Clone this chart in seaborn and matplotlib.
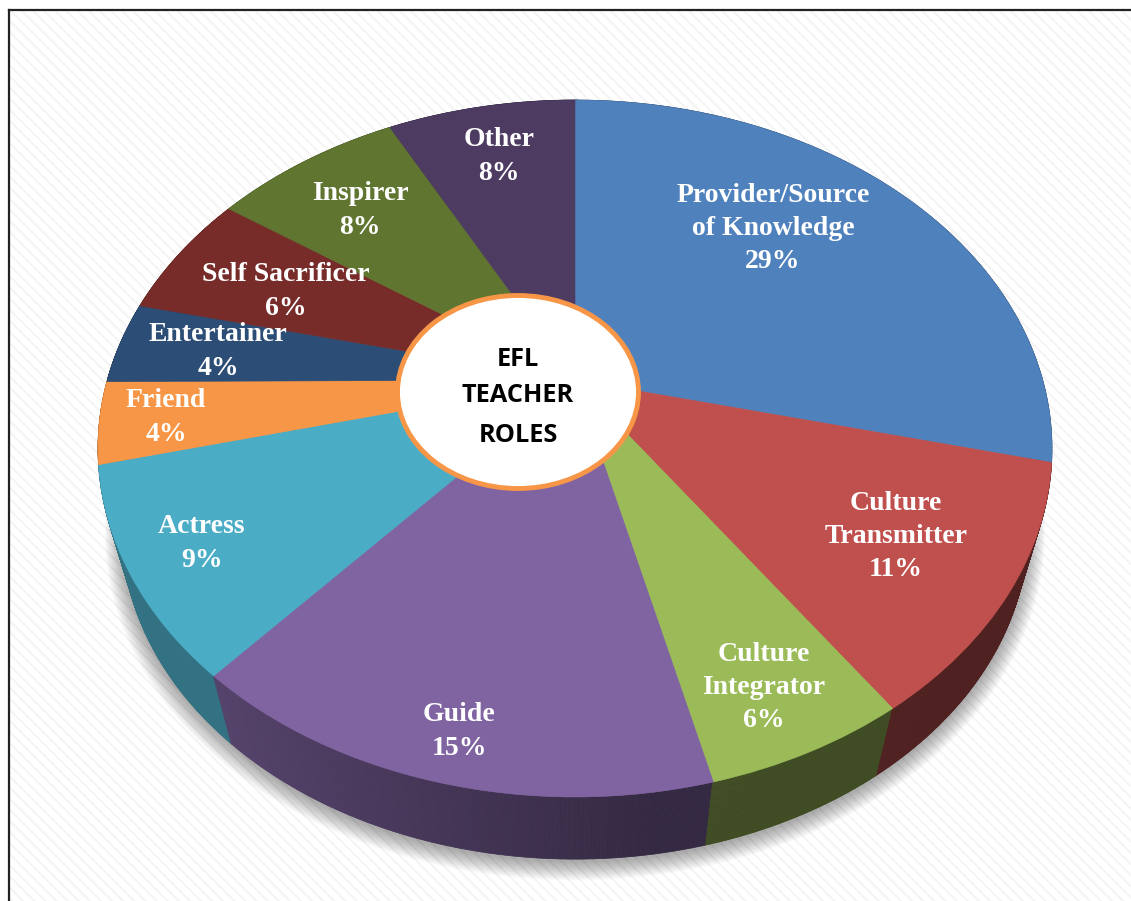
import numpy as np
import seaborn as sns
import matplotlib
matplotlib.use("Agg")
import matplotlib.pyplot as plt
import matplotlib.transforms as mtransforms
from matplotlib.collections import PolyCollection
from matplotlib.patches import Ellipse, Polygon, Rectangle

roles = ["Provider/Source\nof Knowledge", "Culture\nTransmitter", "Culture\nIntegrator", "Guide",
         "Actress", "Friend", "Entertainer", "Self Sacrificer", "Inspirer", "Other"]
# printed percentages, and the slice sizes (labels are rounded)
percents = [29, 11, 6, 15, 9, 4, 4, 6, 8, 8]
slice_sizes = [28.8, 11.6, 5.8, 15.3, 9.7, 3.8, 3.8, 5.9, 7.7, 7.7]
role_colors = ["#4F81BD", "#C0504D", "#9BBB59", "#8064A2", "#4BACC6",
               "#F79646", "#2C4D75", "#772C2A", "#5F7530", "#4D3B62"]
label_x = [773, 896, 764, 459, 202, 166, 218, 286, 360, 499]
label_y = [228.5, 536.5, 687.5, 731.5, 543.5, 417.5, 351.5, 291.5, 210.5, 156.5]

sns.set_theme(style="white")
plt.rcParams["hatch.linewidth"] = 1.4
palette = sns.color_palette(role_colors)

# pie is tilted, so the unit circle goes through a perspective map (apex sits above the ellipse centre)
APEX_X, APEX_Y = 575, 380
K, A, B = 0.1966, 467.7, 335.0
DROP, SHRINK = 83, 0.95


class Tilt(mtransforms.Transform):
    input_dims = 2
    output_dims = 2

    def transform_non_affine(self, values):
        values = np.asarray(values)
        w = 1 + K * values[:, 1]
        return np.column_stack([APEX_X + A * values[:, 0] / w, APEX_Y - B * values[:, 1] / w])


tilt = Tilt()


def top_rim(theta):
    return tilt.transform_non_affine(np.column_stack([np.cos(theta), np.sin(theta)]))


def bottom_rim(theta):
    pts = top_rim(theta)
    return np.column_stack([APEX_X + SHRINK * (pts[:, 0] - APEX_X),
                            APEX_Y + DROP + SHRINK * (pts[:, 1] - APEX_Y)])


fig = plt.figure(figsize=(11.31, 9.01), dpi=100)
ax = fig.add_axes([0, 0, 1, 1])
wedges, _ = ax.pie(slice_sizes, colors=palette, startangle=90, counterclock=False, radius=1,
                   wedgeprops={"linewidth": 0})
ax.set_aspect("auto")
ax.set_xlim(0, 1131)
ax.set_ylim(901, 0)
ax.axis("off")

# page background and frame
ax.add_patch(Rectangle((9, 10), 1130, 900, facecolor="white", edgecolor="#f4f4f4", hatch="\\\\\\",
                       linewidth=0, zorder=0))
ax.plot([9, 9], [905, 10], color="#222222", lw=1.6, zorder=1, solid_capstyle="projecting")
ax.plot([9, 1135], [10, 10], color="#222222", lw=1.6, zorder=1, solid_capstyle="projecting")

# soft shadow under the disc, built up from stacked outlines
ring = np.linspace(0, 2 * np.pi, 361)
base = bottom_rim(ring)
for grow in np.linspace(17, 0, 18):
    cx, cy = base.mean(axis=0)
    scaled = np.column_stack([cx + (base[:, 0] - cx) * (1 + grow / 450),
                              cy + (base[:, 1] - cy) * (1 + grow / 340) + 3])
    ax.add_patch(Polygon(scaled, closed=True, facecolor="black", alpha=0.02, linewidth=0, zorder=2))

# side wall, shaded from left to right
edges = np.radians(90 - 3.6 * np.concatenate([[0], np.cumsum(slice_sizes)]))
for i, color in enumerate(palette):
    theta = np.linspace(edges[i], edges[i + 1], 200)
    upper, lower = top_rim(theta), bottom_rim(theta)
    quads, shades = [], []
    for j in range(len(theta) - 1):
        quads.append([upper[j], upper[j + 1], lower[j + 1], lower[j]])
        shades.append(np.interp(lower[j, 0], [230, 650], [0.66, 0.41]))
    face = [tuple(np.array(color) * s) for s in shades]
    ax.add_collection(PolyCollection(quads, facecolors=face, edgecolors=face, linewidths=0.5, zorder=3))

# the pie top
for wedge in wedges:
    wedge.set_transform(tilt + ax.transData)
    wedge.set_edgecolor(wedge.get_facecolor())
    wedge.set_linewidth(0.4)
    wedge.set_zorder(4)

for role, pct, x, y in zip(roles, percents, label_x, label_y):
    ax.text(x, y, f"{role}\n{pct}%", color="white", fontsize=20, fontfamily="Liberation Serif",
            fontweight="bold", ha="center", va="center", linespacing=1.44, zorder=6)

# centre badge
ax.add_patch(Ellipse((518, 392), 241, 193, facecolor="white", edgecolor="#F79646", linewidth=3.5, zorder=7))
for line, y in zip(["EFL", "TEACHER", "ROLES"], [360, 396, 435]):
    ax.text(518, y, line, color="black", fontsize=18.3, fontfamily="Open Sans", fontweight="bold",
            ha="center", va="center", zorder=8)

fig.savefig("out.png", dpi=100, facecolor="white")
